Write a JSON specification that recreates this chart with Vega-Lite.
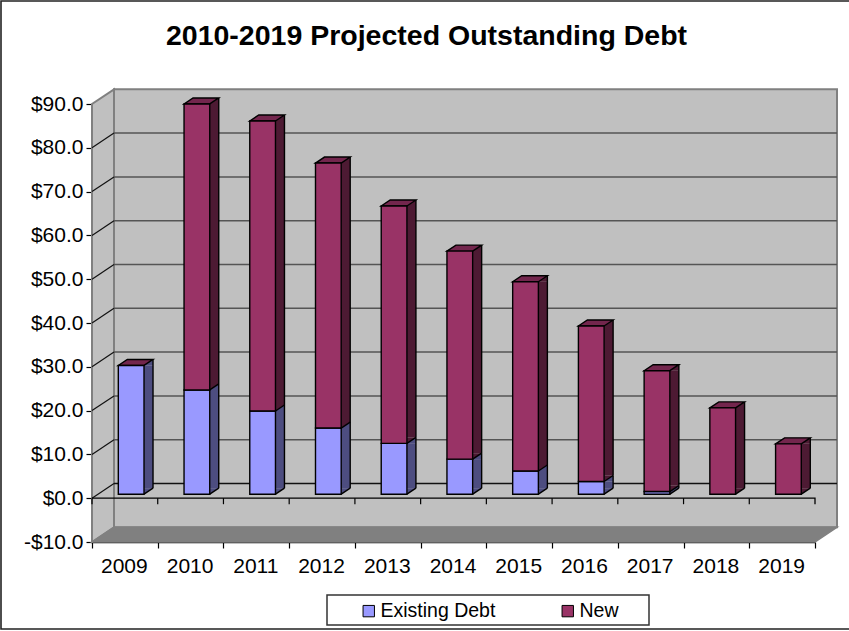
{
  "$schema": "https://vega.github.io/schema/vega-lite/v6.json",
  "width": 723,
  "height": 438,
  "autosize": {"type": "none"},
  "padding": {"left": 92, "top": 104, "right": 34, "bottom": 89},
  "background": "white",
  "title": {
    "text": "2010-2019 Projected Outstanding Debt",
    "font": "Liberation Sans",
    "fontSize": 28.5,
    "fontWeight": "bold",
    "color": "black",
    "anchor": "middle",
    "dx": -27,
    "offset": -53
  },
  "config": {
    "view": {"stroke": null},
    "axis": {
      "grid": false,
      "labelFont": "Liberation Sans",
      "labelColor": "black",
      "domainColor": "black",
      "tickColor": "black",
      "domainWidth": 1.4,
      "tickWidth": 1.2,
      "tickSize": 6,
      "zindex": 1
    }
  },
  "datasets": {
    "debt": [
      {"year": "2009", "series": "Existing Debt", "value": 29.4},
      {"year": "2009", "series": "New", "value": 0},
      {"year": "2010", "series": "Existing Debt", "value": 23.8},
      {"year": "2010", "series": "New", "value": 65.3},
      {"year": "2011", "series": "Existing Debt", "value": 19.0},
      {"year": "2011", "series": "New", "value": 66.2},
      {"year": "2012", "series": "Existing Debt", "value": 15.1},
      {"year": "2012", "series": "New", "value": 60.5},
      {"year": "2013", "series": "Existing Debt", "value": 11.6},
      {"year": "2013", "series": "New", "value": 54.2},
      {"year": "2014", "series": "Existing Debt", "value": 8.0},
      {"year": "2014", "series": "New", "value": 47.5},
      {"year": "2015", "series": "Existing Debt", "value": 5.3},
      {"year": "2015", "series": "New", "value": 43.2},
      {"year": "2016", "series": "Existing Debt", "value": 2.9},
      {"year": "2016", "series": "New", "value": 35.5},
      {"year": "2017", "series": "Existing Debt", "value": 0.6},
      {"year": "2017", "series": "New", "value": 27.6},
      {"year": "2018", "series": "Existing Debt", "value": 0},
      {"year": "2018", "series": "New", "value": 19.7},
      {"year": "2019", "series": "Existing Debt", "value": 0},
      {"year": "2019", "series": "New", "value": 11.5}
    ],
    "levels": [
      {"level": -10}, {"level": 0}, {"level": 10}, {"level": 20}, {"level": 30},
      {"level": 40}, {"level": 50}, {"level": 60}, {"level": 70}, {"level": 80}, {"level": 90}
    ],
    "years": [
      {"year": "2009"}, {"year": "2010"}, {"year": "2011"}, {"year": "2012"},
      {"year": "2013"}, {"year": "2014"}, {"year": "2015"}, {"year": "2016"},
      {"year": "2017"}, {"year": "2018"}, {"year": "2019"}
    ],
    "corner": [{"year": "2009", "level": -10}],
    "origin": [{"year": "2009", "level": 0}]
  },
  "encoding": {
    "x": {
      "field": "year",
      "type": "nominal",
      "title": null,
      "scale": {
        "type": "band",
        "domain": ["2009", "2010", "2011", "2012", "2013", "2014", "2015", "2016", "2017", "2018", "2019"],
        "paddingInner": 0,
        "paddingOuter": 0
      },
      "axis": {"labelAngle": 0, "tickBand": "extent", "labelFontSize": 21, "labelPadding": 7, "labelOffset": -1}
    },
    "y": {
      "field": "level",
      "type": "quantitative",
      "title": null,
      "scale": {"domain": [-10, 90], "nice": false, "zero": false},
      "axis": {
        "values": [-10, 0, 10, 20, 30, 40, 50, 60, 70, 80, 90],
        "format": "$,.1f",
        "labelExpr": "replace(datum.label, '\u2212', '-')",
        "labelFontSize": 21,
        "labelPadding": 3
      }
    }
  },
  "layer": [
    {
      "description": "outer chart frame",
      "data": {"name": "corner"},
      "mark": {"type": "point", "shape": "M-91 -541 H760 V87 H-91 Z", "size": 4, "filled": false, "stroke": "#222222", "strokeWidth": 1.6, "opacity": 1},
      "encoding": {"x": {"field": "year", "type": "nominal", "bandPosition": 0}}
    },
    {
      "description": "legend box",
      "data": {"name": "corner"},
      "mark": {"type": "point", "shape": "M235 53 H557 V83 H235 Z", "size": 4, "filled": false, "stroke": "#333333", "strokeWidth": 1.5, "opacity": 1},
      "encoding": {"x": {"field": "year", "type": "nominal", "bandPosition": 0}}
    },
    {
      "description": "back wall",
      "data": {"name": "corner"},
      "mark": {"type": "point", "shape": "M22 -14.7 H745 V-452.7 H22 Z", "size": 4, "filled": true, "fill": "#C0C0C0", "stroke": "#808080", "strokeWidth": 2, "opacity": 1},
      "encoding": {"x": {"field": "year", "type": "nominal", "bandPosition": 0}}
    },
    {
      "description": "left wall",
      "data": {"name": "corner"},
      "mark": {"type": "point", "shape": "M0 0 L22 -14.7 V-452.7 L0 -438 Z", "size": 4, "filled": true, "fill": "#C0C0C0", "stroke": "#808080", "strokeWidth": 2, "opacity": 1},
      "encoding": {"x": {"field": "year", "type": "nominal", "bandPosition": 0}}
    },
    {
      "description": "floor",
      "data": {"name": "corner"},
      "mark": {"type": "point", "shape": "M0 0 L22 -14.7 H745 L723 0 Z", "size": 4, "filled": true, "fill": "#808080", "stroke": "#808080", "strokeWidth": 1.5, "opacity": 1},
      "encoding": {"x": {"field": "year", "type": "nominal", "bandPosition": 0}}
    },
    {
      "description": "gridlines on the back wall",
      "data": {"name": "levels"},
      "transform": [{"filter": "datum.level > -10 && datum.level < 90"}, {"calculate": "'2009'", "as": "year"}],
      "mark": {"type": "point", "shape": "M22 -14.7 H745", "size": 4, "filled": false, "strokeWidth": 1.5, "opacity": 1},
      "encoding": {
        "x": {"field": "year", "type": "nominal", "bandPosition": 0},
        "stroke": {"condition": {"test": "datum.level === 0", "value": "#111111"}, "value": "#555555"}
      }
    },
    {
      "description": "gridline returns on the left wall",
      "data": {"name": "levels"},
      "transform": [{"filter": "datum.level > -10 && datum.level < 90"}, {"calculate": "'2009'", "as": "year"}],
      "mark": {"type": "point", "shape": "M0 0 L22 -14.7", "size": 4, "filled": false, "stroke": "#111111", "strokeWidth": 1.2, "opacity": 1},
      "encoding": {"x": {"field": "year", "type": "nominal", "bandPosition": 0}}
    },
    {
      "description": "category line at zero with its closing tick",
      "data": {"name": "origin"},
      "mark": {"type": "point", "shape": "M0 0 H723 V6", "size": 4, "filled": false, "stroke": "black", "strokeWidth": 1.3, "opacity": 1},
      "encoding": {"x": {"field": "year", "type": "nominal", "bandPosition": 0}}
    },
    {
      "description": "category ticks at zero",
      "data": {"name": "years"},
      "transform": [{"calculate": "0", "as": "level"}],
      "mark": {"type": "point", "shape": "M0 0 V6", "size": 4, "filled": false, "stroke": "black", "strokeWidth": 1.2, "opacity": 1},
      "encoding": {"x": {"field": "year", "type": "nominal", "bandPosition": 0}}
    },
    {
      "description": "the 3D stacks",
      "data": {"name": "debt"},
      "transform": [
        {"stack": "value", "groupby": ["year"], "sort": [{"field": "series", "order": "ascending"}], "as": ["y0", "y1"]}
      ],
      "layer": [
        {
          "description": "side face body",
          "transform": [{"filter": "datum.y1 - datum.y0 >= 1.4"}],
          "mark": {"type": "bar", "width": 9, "xOffset": 23.65, "yOffset": -4, "y2Offset": -10},
          "encoding": {
            "y": {"field": "y1", "type": "quantitative"},
            "y2": {"field": "y0"},
            "fill": {"condition": {"test": "datum.series === 'New'", "value": "#4D1A33"}, "value": "#4D4D80"}
          }
        },
        {
          "description": "side face upper wedge",
          "transform": [{"filter": "datum.y1 - datum.y0 >= 1.4"}],
          "mark": {"type": "point", "shape": "M0 0 L9 -6 V0 Z", "size": 4, "filled": true, "opacity": 1, "xOffset": 19.15, "yOffset": -4},
          "encoding": {
            "y": {"field": "y1", "type": "quantitative"},
            "fill": {"condition": {"test": "datum.series === 'New'", "value": "#4D1A33"}, "value": "#4D4D80"}
          }
        },
        {
          "description": "side face lower wedge",
          "transform": [{"filter": "datum.y1 - datum.y0 >= 1.4"}],
          "mark": {"type": "point", "shape": "M0 0 L9 -6 H0 Z", "size": 4, "filled": true, "opacity": 1, "xOffset": 19.15, "yOffset": -4},
          "encoding": {
            "y": {"field": "y0", "type": "quantitative"},
            "fill": {"condition": {"test": "datum.series === 'New'", "value": "#4D1A33"}, "value": "#4D4D80"}
          }
        },
        {
          "description": "side face of the thin 2017 sliver",
          "transform": [{"filter": "datum.y1 > datum.y0 && datum.y1 - datum.y0 < 1.4"}],
          "mark": {"type": "point", "shape": "M0 0 L9 -6 V-8.6 L0 -2.6 Z", "size": 4, "filled": true, "fill": "#4D4D80", "opacity": 1, "xOffset": 19.15, "yOffset": -4},
          "encoding": {"y": {"field": "y0", "type": "quantitative"}}
        },
        {
          "description": "rear vertical edge",
          "transform": [{"filter": "datum.y1 > datum.y0"}],
          "mark": {"type": "rule", "color": "black", "strokeWidth": 1.4, "xOffset": 28.15, "yOffset": -10, "y2Offset": -10},
          "encoding": {
            "y": {"field": "y1", "type": "quantitative"},
            "y2": {"field": "y0"}
          }
        },
        {
          "description": "diagonal edge at each segment foot",
          "transform": [{"filter": "datum.y1 > datum.y0"}],
          "mark": {"type": "point", "shape": "M0 0 L9 -6", "size": 4, "filled": false, "stroke": "black", "strokeWidth": 1.4, "opacity": 1, "xOffset": 19.15, "yOffset": -4},
          "encoding": {"y": {"field": "y0", "type": "quantitative"}}
        },
        {
          "description": "top face of each stack",
          "transform": [{"filter": "datum.series === 'New'"}],
          "mark": {"type": "point", "shape": "M0 0 L9 -6 H-16.7 L-25.7 0 Z", "size": 4, "filled": true, "fill": "#73264D", "stroke": "black", "strokeWidth": 1.4, "opacity": 1, "xOffset": 19.15, "yOffset": -4},
          "encoding": {"y": {"field": "y1", "type": "quantitative"}}
        },
        {
          "description": "front faces",
          "transform": [{"filter": "datum.y1 > datum.y0"}],
          "mark": {"type": "bar", "width": 25.7, "xOffset": 6.3, "yOffset": -4, "y2Offset": -4, "stroke": "black", "strokeWidth": 1.4},
          "encoding": {
            "y": {"field": "y1", "type": "quantitative"},
            "y2": {"field": "y0"},
            "color": {
              "field": "series",
              "type": "nominal",
              "title": null,
              "scale": {"domain": ["Existing Debt", "New"], "range": ["#9999FF", "#993366"]},
              "legend": {
                "orient": "none",
                "direction": "horizontal",
                "legendX": 267,
                "legendY": 497,
                "padding": 0,
                "symbolType": "square",
                "symbolSize": 130,
                "symbolStrokeColor": "black",
                "symbolStrokeWidth": 1,
                "symbolOpacity": 1,
                "labelFont": "Liberation Sans",
                "labelFontSize": 19.5,
                "labelColor": "black",
                "labelOffset": 2,
                "columnPadding": 62,
                "labelLimit": 200
              }
            }
          }
        }
      ]
    }
  ]
}
